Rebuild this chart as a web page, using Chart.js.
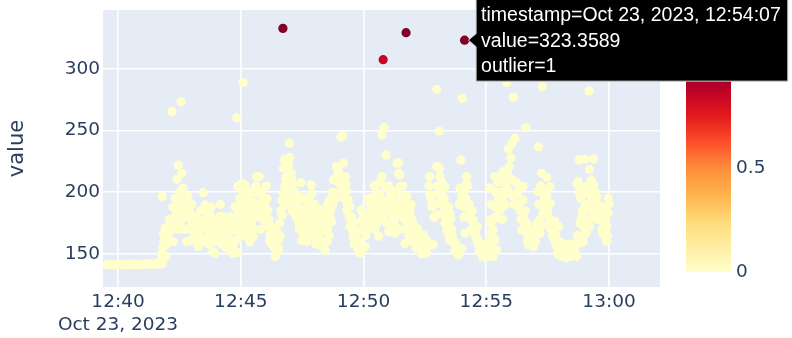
<!DOCTYPE html>
<html>
<head>
<meta charset="utf-8">
<script src="https://cdn.jsdelivr.net/npm/chart.js@4.4.1/dist/chart.umd.min.js"></script>
<style>
html,body{margin:0;padding:0;background:#ffffff;}
#wrap{width:792px;height:338px;position:relative;}
</style>
</head>
<body>
<div id="wrap"><canvas id="c" width="792" height="338"></canvas></div>
<script>
// ---- data (seconds after 12:40:00 on Oct 23, 2023) ----
const startClock = [12, 40, 0];
const dateLabel = 'Oct 23, 2023';

const seconds = [
-27,-22,-17,-12,-7,-2,3,8,13,18,
23,28,33,38,43,48,53,58,63,68,
73,78,83,88,93,98,103,108,
105,107,108,110,111,112,115,117,120,122,
127,130,132,134,137,139,142,144,147,149,
152,154,156,159,161,164,166,169,171,174,
176,178,183,186,188,191,193,196,198,200,
203,205,208,210,213,215,218,220,222,225,
227,230,232,235,237,240,242,244,247,249,
252,254,256,259,262,264,266,269,271,274,
276,279,281,281,282,284,286,288,290,290,
291,291,
293,298,303,306,306,306,308,310,310,313,
318,318,323,323,323,325,327,330,335,339,
340,342,345,347,349,352,354,357,359,359,
364,367,371,371,376,381,384,388,389,391,
393,396,401,401,404,406,408,411,412,413,
415,419,420,423,424,425,428,
437,441,445,447,449,453,455,461,461,464,
467,472,474,477,479,484,486,489,490,494,
498,503,506,510,511,514,516,518,518,522,
525,530,534,535,543,543,545,549,550,551,
555,557,559,559,563,567,567,571,574,575,
579,583,584,587,591,594,
594,594,599,604,609,613,616,621,624,626,
628,630,633,637,638,640,645,645,645,648,
650,652,652,655,657,661,661,662,665,665,
670,673,673,673,675,677,682,682,685,685,
687,689,689,689,693,694,697,699,701,706,
706,709,714,714,718,718,721,726,730,735,
738,743,746,750,754,758,762,762,767,770,
779,779,779,783,785,785,787,
790,791,793,795,799,799,803,807,807,811,
811,815,819,823,828,832,836,838,840,840,
841,844,844,848,852,852,860,864,868,872,
877,877,881,885,889,893,897,901,905,909,
911,911,911,917,917,917,921,921,921,925,
925,925,934,938,942,942,950,950,954,956,
962,966,966,970,974,982,982,987,990,990,
990,997,999,999,1003,1007,1015,1027,1027,1031,
1031,1035,1035,1037,1039,1039,1048,1048,1052,1056,
1056,1064,1068,1068,1072,1076,1080,1084,1088,1092,
1097,1100,1101,1105,1109,1113,1117,1121,1122,1125,
1127,1129,1129,1129,1133,1137,1137,1137,1141,1141,
1144,1151,1152,1153,1153,1153,1162,1162,1163,1170,
1170,1185,1186,1190,1194,1194,1194,1198,1198,
// further readings inside the dense bands
125,135,140,146,150,158,163,168,173,180,
185,190,195,202,207,212,217,224,228,233,
238,245,250,257,261,267,273,278,283,287,
295,297,300,302,305,309,312,315,316,320,
322,328,332,334,337,344,348,350,355,362,
366,369,374,378,382,386,392,395,398,403,
407,410,414,417,421,426,
430,433,435,439,443,450,452,457,459,463,
466,469,471,476,481,483,488,492,496,500,
504,508,512,520,524,527,532,537,540,547,
553,561,565,569,573,577,581,585,589,597,
601,
606,611,618,622,627,632,635,642,647,654,
659,664,668,672,679,684,691,696,700,703,
708,711,716,720,724,728,733,741,748,756,
760,765,772,775,781,
789,797,801,805,809,813,817,821,826,830,
834,846,850,855,858,862,866,870,875,879,
883,887,891,895,899,903,907,
913,915,919,923,928,930,936,940,945,947,
952,958,960,964,968,972,977,980,985,993,
995,1001,1005,1010,1012,1018,1021,1024,1029,1033,
1042,1045,1050,1054,1058,1061,1066,1070,1074,1078,
1082,1086,1090,1094,1103,1107,1111,1115,1119,1123,
1126,1131,1135,1139,1143,1146,1148,1155,1157,1159,
1160,1165,1167,1172,1175,1178,1180,1183,1188,1192,
1196,1200
];

const values = [
141.3,141.6,141.2,141.5,141.0,141.4,141.8,141.3,141.1,141.6,
141.9,141.4,141.2,141.7,141.5,141.3,141.8,141.6,141.2,141.9,
142.1,141.7,141.4,141.8,142.2,141.9,141.6,142.3,
145,150,196.5,155,166,160,171,148,158,164,
168,175,265.4,188,172,180,185,210.5,222,190,
175,273.5,215.4,203.3,195,185,192,180,196.5,170,
161,172,175,163,168,172,160,156,165,158,
170,162,199.7,185,189.8,178,170,163,158,181.6,
175,167,152,165,150.6,160,170,178,173,180.4,
168,158,170,165,162,155,172,175,160,168,
158,152,150.6,156,169.5,180,188.4,170,188,260.5,
162,151,
204.6,195,207,289,194,180,199,206,200,180,
190,173,175,199,167,170,201,164,185,212.7,
203,199,212.7,180,170,188,196,188,177,191,
195,172,165,160,158,167,148,161,156,152,
155,165,181.6,193.8,219.4,226.2,205,198,204.6,211,
190,239.7,228.4,215.4,211.3,203,207,
191.6,175,186,207.8,161,167,175,191.6,160,188,
172,206,199,184,178,165,175,160,186,161,
168,170,153,188,160,191,165,180,194,176,
190,200,220.9,212.7,214,199,245,245.7,202,223.5,
212.7,207,201,185.7,193.8,188.4,172,180,164,175,
161,167,169.5,153,151,185.7,
177,151,182.8,156,170,195,190.6,172,184.6,205,
180,190,175,164.4,198,208,212.7,246.5,185,190.6,
252.4,204.6,182.4,230.3,175,205.3,190.6,168,185.2,198,
190,200.5,180,169,178,166.8,185,223.6,224,215.4,
192,214,204.6,182.4,196.5,170,179.8,185,158.5,196.5,
172,176,184.6,168,178,167,160,172,164.4,161.7,
165,150,156.3,160,151,156.3,212.7,198,188.4,157.6,
221,283.5,181.8,199,219.5,249.7,212.7,
195,208.6,190,183.1,204.6,175,169.5,188.4,166.8,183.1,
161.4,170,158.8,152,156.1,149.4,203.3,226.2,154.6,196.5,
276.2,200.6,188.4,166.8,212.7,207.3,183.1,170,177.7,165,
172.3,161.5,158,156.1,150,153.4,147,152,148.1,203.3,
177.7,175,166.8,169.5,161.5,148.1,188.4,212.7,161.4,212.7,
180.4,153.4,185.7,188.4,216.7,196.5,204.6,289,235.1,221,
239.7,277,196.5,243.8,207.3,205.3,185.7,169.5,204.6,193.8,
180.4,252.4,175,166.8,157.4,161.4,156.1,237,200.6,177.7,
166.8,215.4,172.3,285.7,200.6,183.1,212.2,196.5,180.4,204.6,
191.2,164.1,176.4,160.1,156.1,172.3,152.1,148,155,150.7,
147,152,157,153.4,148.1,150,156.1,148.1,207,208.6,
226.2,204.6,175,158.8,180.4,172.3,177.7,160.1,227,188.4,
166.8,282.2,218.6,198,185.7,172.3,227,180.4,206,196.5,
185.7,167,175,164.4,188.4,172.3,160.3,195.2,183.1,
// further readings inside the dense bands
178,160,195,170,200,182,170,160,185,190,
180,165,178,185,176,160,185,172,188,178,
164,160,190,180,175,165,180,172,160,175,
185,175,168,188,172,190,165,195,170,185,
160,178,192,170,205,190,200,185,180,205,
185,178,172,162,155,170,162,175,185,200,
190,212,200,222,195,185,
195,200,180,198,170,180,195,185,168,178,
195,185,165,170,190,158,180,170,157,180,
185,175,170,185,200,210,195,218,208,205,
195,190,180,178,170,158,163,158,160,170,
175,
165,178,185,195,170,200,185,195,178,192,
185,175,195,185,172,200,188,205,178,190,
185,165,190,175,165,155,170,158,165,160,
205,195,180,190,205,
200,195,180,178,172,178,165,160,158,152,
190,180,195,205,190,178,185,172,168,162,
152,158,148,155,150,155,160,
190,155,178,200,208,195,200,178,210,190,
215,200,228,210,190,198,200,190,178,175,
185,160,170,165,158,170,160,175,190,205,
195,188,185,175,170,165,170,165,150,160,
155,150,158,152,150,155,158,152,150,165,
200,195,185,200,178,190,205,190,210,180,
195,185,200,178,190,185,178,170,185,178,
165,190
];

// flagged readings (outlier score)
const outlierSeconds = [403, 648, 704, 847];
const outlierValues  = [332.9, 307.5, 329.4, 323.3589];
const outlierScores  = [1, 0.85, 1, 1];
const hoveredOutlier = 3;

const xTickSeconds = [0, 300, 600, 900, 1200];
const xTickLabels  = ['12:40', '12:45', '12:50', '12:55', '13:00'];
const yTicks = [150, 200, 250, 300];
const colorTicks = [0, 0.5, 1];
const colorTickLabels = ['0', '0.5', '1'];

// ---- presentation ----
const ylorrd = [[255,255,204],[255,237,160],[254,217,118],[254,178,76],[253,141,60],[252,78,42],[227,26,28],[189,0,38],[128,0,38]];
function scaleColor(t){
  t = Math.max(0, Math.min(1, t));
  const p = t * (ylorrd.length - 1);
  const i = Math.min(ylorrd.length - 2, Math.floor(p));
  const f = p - i;
  const a = ylorrd[i], b = ylorrd[i+1];
  const c = a.map((v,k)=>Math.round(v + (b[k]-v)*f));
  return 'rgb(' + c.join(',') + ')';
}
function clockText(s){
  let tot = startClock[0]*3600 + startClock[1]*60 + startClock[2] + s;
  const h = Math.floor(tot/3600), m = Math.floor((tot%3600)/60), sec = tot%60;
  const p = n => String(n).padStart(2,'0');
  return p(h)+':'+p(m)+':'+p(sec);
}

const pts = seconds.map((s,i)=>({x:s, y:values[i]}));
const scores = seconds.map(()=>0);
outlierSeconds.forEach((s,i)=>{ pts.push({x:s, y:outlierValues[i]}); scores.push(outlierScores[i]); });
const colors = scores.map(scaleColor);

const AXIS_FONT = 'DejaVu Sans';
const AXIS_COLOR = '#2a3f5f';

const decor = {
  id: 'decor',
  beforeDraw(chart){
    const {ctx, chartArea:a} = chart;
    ctx.save();
    ctx.fillStyle = '#e5ecf6';
    ctx.fillRect(a.left, a.top, a.right - a.left, a.bottom - a.top);
    ctx.restore();
  },
  afterDraw(chart){
    const ctx = chart.ctx;
    // colour bar
    const cbX = 686, cbW = 45, cbTop = 64, cbBot = 272;
    ctx.save();
    const g = ctx.createLinearGradient(0, cbBot, 0, cbTop);
    ylorrd.forEach((c,i)=>g.addColorStop(i/(ylorrd.length-1), 'rgb('+c.join(',')+')'));
    ctx.fillStyle = g;
    ctx.fillRect(cbX, cbTop, cbW, cbBot - cbTop);
    ctx.fillStyle = AXIS_COLOR;
    ctx.font = '18.5px "' + AXIS_FONT + '"';
    ctx.textAlign = 'left';
    ctx.textBaseline = 'middle';
    colorTicks.forEach((t,i)=>{
      ctx.fillText(colorTickLabels[i], cbX + cbW + 5, cbBot - t*(cbBot - cbTop));
    });
    ctx.restore();

    // hover label for the hovered outlier
    const xs = chart.scales.x, ys = chart.scales.y;
    const px = xs.getPixelForValue(outlierSeconds[hoveredOutlier]);
    const py = ys.getPixelForValue(outlierValues[hoveredOutlier]);
    const lines = [
      'timestamp=' + dateLabel + ', ' + clockText(outlierSeconds[hoveredOutlier]),
      'value=' + outlierValues[hoveredOutlier].toFixed(4),
      'outlier=' + outlierScores[hoveredOutlier]
    ];
    ctx.save();
    ctx.font = '19.5px "Liberation Sans", Arial, sans-serif';
    const w = Math.max(...lines.map(l=>ctx.measureText(l).width));
    const left = px + 11.5, right = left + 5 + w + 7;
    const top = py - 41, bot = py + 41;
    ctx.beginPath();
    ctx.moveTo(left, top);
    ctx.lineTo(right, top);
    ctx.lineTo(right, bot);
    ctx.lineTo(left, bot);
    ctx.lineTo(left, py + 6.5);
    ctx.lineTo(px + 3.8, py);
    ctx.lineTo(left, py - 6.5);
    ctx.closePath();
    ctx.fillStyle = '#000';
    ctx.fill();
    ctx.lineWidth = 1;
    ctx.strokeStyle = '#d0d0d0';
    ctx.stroke();
    ctx.fillStyle = '#fff';
    ctx.textAlign = 'left';
    ctx.textBaseline = 'middle';
    lines.forEach((l,i)=>ctx.fillText(l, left + 5, py + 1 + (i-1)*25.8));
    ctx.restore();
  }
};

new Chart(document.getElementById('c'), {
  type: 'scatter',
  data: {
    datasets: [{
      data: pts,
      pointRadius: 4.6,
      pointHoverRadius: 4.6,
      pointBorderWidth: 0,
      pointBackgroundColor: colors,
      pointBorderColor: colors
    }]
  },
  options: {
    responsive: false,
    animation: false,
    devicePixelRatio: 1,
    events: [],
    layout: { padding: { left: 0, right: 132, top: 10, bottom: 0 } },
    plugins: { legend: { display: false }, tooltip: { enabled: false } },
    scales: {
      x: {
        type: 'linear',
        min: -36.7,
        max: 1324.6,
        border: { display: false },
        grid: { color: '#ffffff', lineWidth: 1.6, drawTicks: false },
        ticks: {
          autoSkip: false, maxRotation: 0, minRotation: 0, padding: 3,
          color: AXIS_COLOR,
          font: { family: AXIS_FONT, size: 18.5, lineHeight: 1.28 },
          callback: (v) => {
            const i = xTickSeconds.indexOf(v);
            if (i < 0) return '';
            return i === 0 ? [xTickLabels[i], dateLabel] : xTickLabels[i];
          }
        },
        afterBuildTicks: (s) => { s.ticks = xTickSeconds.map(v=>({value:v})); },
        afterFit: (s) => { s.height = 51; s.paddingLeft = 0; s.paddingRight = 0; }
      },
      y: {
        type: 'linear',
        min: 123.2,
        max: 347.8,
        border: { display: false },
        grid: { color: '#ffffff', lineWidth: 1.6, drawTicks: false },
        ticks: {
          padding: 3,
          color: AXIS_COLOR,
          font: { family: AXIS_FONT, size: 18.5 },
          callback: (v) => String(v)
        },
        title: {
          display: true, text: 'value', color: AXIS_COLOR,
          font: { family: AXIS_FONT, size: 21 },
          padding: { top: 5, bottom: 0 }
        },
        afterBuildTicks: (s) => { s.ticks = yTicks.map(v=>({value:v})); },
        afterFit: (s) => { s.width = 103; s.paddingTop = 0; s.paddingBottom = 0; }
      }
    }
  },
  plugins: [decor]
});
if (seconds.length !== values.length) console.error('length mismatch', seconds.length, values.length);
</script>
</body>
</html>
